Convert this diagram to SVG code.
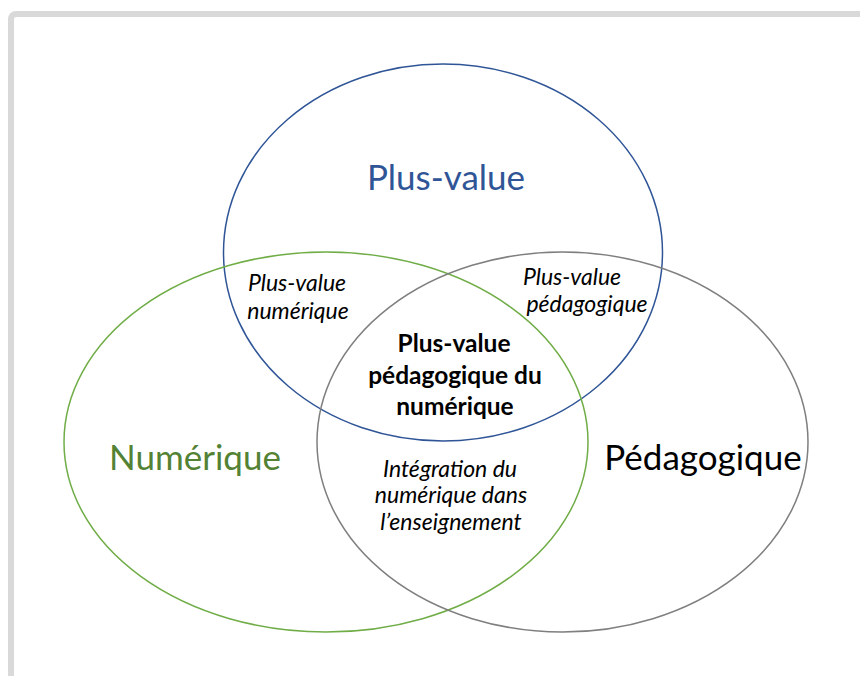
<svg xmlns="http://www.w3.org/2000/svg" width="860" height="676" viewBox="0 0 860 676">
<style>
.e{fill:none;stroke-width:1.5}
.big{font-family:Lato,"Liberation Sans",sans-serif;font-size:35px;text-anchor:middle}
.it{font-family:Lato,"Liberation Sans",sans-serif;font-size:23px;font-style:italic;text-anchor:middle;fill:#000}
.bd{font-family:Lato,"Liberation Sans",sans-serif;font-size:24.5px;font-weight:bold;text-anchor:middle;fill:#000}
</style>
<rect x="0" y="0" width="860" height="676" fill="#fff"/>
<rect x="11" y="14" width="900" height="700" rx="5" fill="none" stroke="#d9d9d9" stroke-width="6"/>
<g id="plus-value">
<ellipse class="e" cx="443" cy="252.5" rx="219.5" ry="188.5" stroke="#2f5597"/>
<text class="big" x="446" y="190" fill="#2f5597">Plus-value</text>
</g>
<g id="numerique">
<ellipse class="e" cx="326" cy="442" rx="262" ry="190" stroke="#70ad47"/>
<text class="big" x="195" y="470" fill="#548235">Numérique</text>
</g>
<g id="pedagogique">
<ellipse class="e" cx="562.5" cy="442" rx="245.5" ry="190" stroke="#7f7f7f"/>
<text class="big" x="703" y="470" fill="#000">Pédagogique</text>
</g>
<g id="pv-numerique">
<text class="it" x="297" y="291">Plus-value</text>
<text class="it" x="298" y="319">numérique</text>
</g>
<g id="pv-pedagogique">
<text class="it" x="572" y="285">Plus-value</text>
<text class="it" x="587" y="312">pédagogique</text>
</g>
<g id="pv-ped-num">
<text class="bd" x="454" y="352">Plus-value</text>
<text class="bd" x="455" y="384">pédagogique du</text>
<text class="bd" x="455" y="415">numérique</text>
</g>
<g id="integration">
<text class="it" x="450" y="477">Intégration du</text>
<text class="it" x="451" y="503">numérique dans</text>
<text class="it" x="451" y="530">l’enseignement</text>
</g>
<g id="connectors"></g>
</svg>
